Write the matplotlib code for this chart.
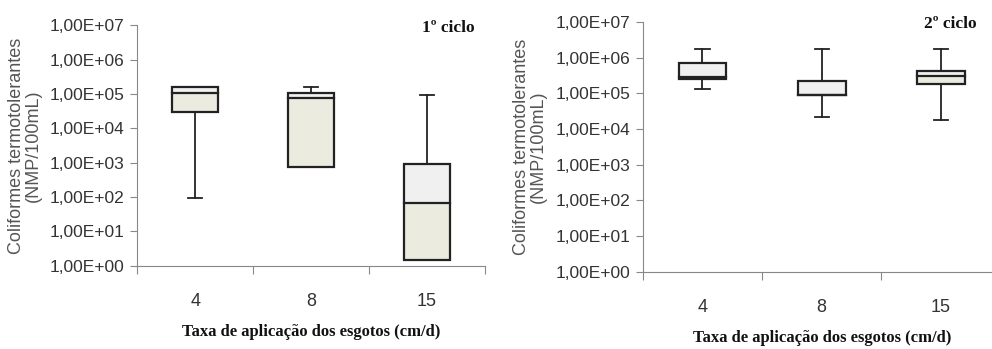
import numpy as np
import matplotlib
matplotlib.use('Agg')
import matplotlib.pyplot as plt
from matplotlib.patches import Rectangle

# Dados (NMP/100mL)
categorias = ['4', '8', '15']
yticks_lbl = ['1,00E+00', '1,00E+01', '1,00E+02', '1,00E+03', '1,00E+04', '1,00E+05', '1,00E+06', '1,00E+07']

# 1º ciclo
c1_min = [91, 1.1e5, 1.46]
c1_q1 = [2.9e4, 760, 1.46]
c1_med = [1.05e5, 7.6e4, 65]
c1_q3 = [1.56e5, 1.1e5, 910]
c1_max = [1.56e5, 1.56e5, 9.5e4]

# 2º ciclo
c2_min = [1.3e5, 2.2e4, 1.8e4]
c2_q1 = [2.5e5, 9.2e4, 1.8e5]
c2_med = [2.8e5, 9.2e4, 3.1e5]
c2_q3 = [6.9e5, 2.15e5, 4.3e5]
c2_max = [1.7e6, 1.7e6, 1.7e6]

fig = plt.figure(figsize=(9.92, 3.49), dpi=100)

narrow = ['Liberation Sans Narrow', 'Liberation Sans', 'DejaVu Sans']
serif = ['Liberation Serif', 'DejaVu Serif']


def painel(ax, vmin, q1, med, q3, vmax, titulo, tx, ty):
    largura = 0.4
    for i in range(len(categorias)):
        x = i + 1
        # whiskers
        if vmax[i] > q3[i]:
            ax.plot([x, x], [q3[i], vmax[i]], color='#222222', lw=1.3, zorder=2)
            ax.plot([x - 0.06, x + 0.06], [vmax[i], vmax[i]], color='#222222', lw=1.3, zorder=2)
        if vmin[i] < q1[i]:
            ax.plot([x, x], [vmin[i], q1[i]], color='#222222', lw=1.3, zorder=2)
            ax.plot([x - 0.06, x + 0.06], [vmin[i], vmin[i]], color='#222222', lw=1.3, zorder=2)
        # caixa em duas partes
        ax.add_patch(Rectangle((x - largura / 2, q1[i]), largura, med[i] - q1[i],
                               facecolor='#ebebdf', edgecolor='none', zorder=3))
        ax.add_patch(Rectangle((x - largura / 2, med[i]), largura, q3[i] - med[i],
                               facecolor='#f0f0f0', edgecolor='none', zorder=3))
        ax.add_patch(Rectangle((x - largura / 2, q1[i]), largura, q3[i] - q1[i],
                               facecolor='none', edgecolor='#222222', lw=1.6, zorder=4))
        ax.plot([x - largura / 2, x + largura / 2], [med[i], med[i]], color='#222222', lw=1.6, zorder=4)

    ax.set_yscale('log')
    ax.set_ylim(1, 1e7)
    ax.set_xlim(0.5, 3.5)
    ax.set_yticks([10.0 ** k for k in range(8)])
    ax.set_yticklabels(yticks_lbl, family=narrow, fontsize=12.5, color='#333333')
    ax.yaxis.set_minor_locator(matplotlib.ticker.NullLocator())
    ax.set_xticks([0.5, 1.5, 2.5, 3.5])
    ax.set_xticklabels([])
    ax.set_xticks([1, 2, 3], minor=True)
    ax.set_xticklabels(categorias, minor=True, family=narrow, fontsize=13, color='#333333')
    ax.tick_params(axis='x', which='minor', length=0, pad=20)
    ax.tick_params(axis='x', which='major', length=6, color='#888888', direction='out')
    ax.tick_params(axis='y', length=5, color='#888888', pad=4)
    for s in ['top', 'right']:
        ax.spines[s].set_visible(False)
    for s in ['left', 'bottom']:
        ax.spines[s].set_color('#888888')
    ax.set_ylabel('Coliformes termotolerantes\n(NMP/100mL)', family=['Liberation Sans', 'DejaVu Sans'],
                  fontsize=13, color='#555555', labelpad=6, linespacing=1.0)
    ax.set_xlabel('Taxa de aplicação dos esgotos (cm/d)', family=serif, fontweight='bold',
                  fontsize=12, color='#111111', labelpad=10)
    fig.text(tx, ty, titulo, family=serif, fontweight='bold', fontsize=12.5, color='#111111',
             ha='center', va='center')


ax1 = fig.add_axes([0.1384, 0.2387, 0.3505, 0.6888])
painel(ax1, c1_min, c1_q1, c1_med, c1_q3, c1_max, '1º ciclo', 448 / 992, 1 - 28 / 349)

ax2 = fig.add_axes([0.6479, 0.2215, 0.3609, 0.7155])
painel(ax2, c2_min, c2_q1, c2_med, c2_q3, c2_max, '2º ciclo', 950 / 992, 1 - 24 / 349)

fig.savefig('out.png', dpi=100)
